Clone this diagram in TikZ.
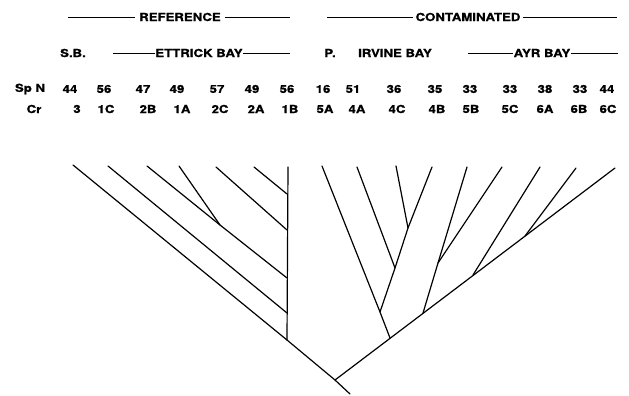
\documentclass[tikz,border=0pt]{standalone}
\usepackage{fontspec}
\setmainfont{TeX Gyre Heros}[FakeStretch=1.2,BoldFeatures={FakeBold=0.8}]
\tikzset{
  lab/.style={font=\bfseries\fontsize{11}{13}\selectfont,inner sep=1.5pt},
  rule/.style={line width=0.9pt},
  branch/.style={line width=1.2pt,line cap=round,line join=round}
}
\begin{document}
\begin{tikzpicture}[x=1pt,y=-1pt]
\useasboundingbox (0,0) rectangle (629,396);
% headings
\node[lab,inner xsep=4pt] (ref) at (180,17) {REFERENCE};
\node[lab,inner xsep=2pt] (con) at (468,17) {CONTAMINATED};
\coordinate (refL) at (68,17); \coordinate (refR) at (290,17);
\coordinate (conL) at (327,17); \coordinate (conR) at (617,17);
\draw[rule] (refL) -- (ref.west); \draw[rule] (ref.east) -- (refR);
\draw[rule] (conL) -- (con.west); \draw[rule] (con.east) -- (conR);
% sites
\node[lab] (sb) at (73,53) {S.B.};
\node[lab,inner xsep=0.5pt] (ett) at (199,53) {ETTRICK BAY};
\node[lab] (pp) at (330,53) {P.};
\node[lab] (irv) at (395,53) {IRVINE BAY};
\node[lab,inner xsep=0.5pt] (ayr) at (542,53) {AYR BAY};
\coordinate (ettL) at (113,53); \coordinate (ettR) at (290,53);
\coordinate (ayrL) at (468,53); \coordinate (ayrR) at (618,53);
\draw[rule] (ettL) -- (ett.west); \draw[rule] (ett.east) -- (ettR);
\draw[rule] (ayrL) -- (ayr.west); \draw[rule] (ayr.east) -- (ayrR);
% rows
\node[lab] (spn) at (30,89) {Sp N};
\node[lab] (cr) at (34,109) {Cr};
\foreach \x/\t [count=\i] in {70/44,104/56,143/47,177/49,217/57,252/49,287/56,323/16,353/51,394/36,435/35,470/33,510/33,545/38,580/33,607/44}
  \node[lab] (sp\i) at (\x,89) {\t};
\foreach \x/\t [count=\i] in {77/3,106/1C,148/2B,182/1A,220/2C,256/2A,290/1B,325/5A,357/4A,397/4C,437/4B,471/5B,510/5C,545/6A,579/6B,608/6C}
  \node[lab] (cr\i) at (\x,109) {\t};
% tree, reference side
\coordinate (t1) at (73,165); \coordinate (t2) at (108,166);
\coordinate (t3) at (147,166); \coordinate (t4) at (179,166);
\coordinate (t5) at (216,167); \coordinate (t6) at (254,167);
\coordinate (t7) at (288,167);
\coordinate (j34) at (220,225);
\coordinate (v6) at (287,194); \coordinate (v5) at (287,230);
\coordinate (v3) at (287,278); \coordinate (v2) at (287,313);
\coordinate (v1) at (287,340);
\coordinate (root) at (335,380); \coordinate (stem) at (350,394);
\draw[branch] (t1) -- (v1) -- (root) -- (stem);
\draw[branch] (t7) -- (v1);
\draw[branch] (t2) -- (v2);
\draw[branch] (t3) -- (j34) -- (v3);
\draw[branch] (t4) -- (j34);
\draw[branch] (t5) -- (v5);
\draw[branch] (t6) -- (v6);
% tree, contaminated side
\coordinate (u8) at (322,166); \coordinate (u9) at (357,167);
\coordinate (u10) at (396,166); \coordinate (u11) at (432,167);
\coordinate (u12) at (467,167); \coordinate (u13) at (502,167);
\coordinate (u14) at (540,167); \coordinate (u15) at (576,168);
\coordinate (u16) at (615,168);
\coordinate (k1011) at (408,228); \coordinate (k9) at (395,268);
\coordinate (k8) at (380,312); \coordinate (k1213) at (438,263);
\coordinate (m8) at (390,338); \coordinate (m12) at (423,313);
\coordinate (m14) at (473,275); \coordinate (m15) at (525,236);
\draw[branch] (root) -- (u16);
\draw[branch] (u8) -- (k8) -- (m8);
\draw[branch] (u9) -- (k9) -- (k8);
\draw[branch] (u10) -- (k1011) -- (k9);
\draw[branch] (u11) -- (k1011);
\draw[branch] (u12) -- (k1213) -- (m12);
\draw[branch] (u13) -- (k1213);
\draw[branch] (u14) -- (m14);
\draw[branch] (u15) -- (m15);
\end{tikzpicture}
\end{document}
